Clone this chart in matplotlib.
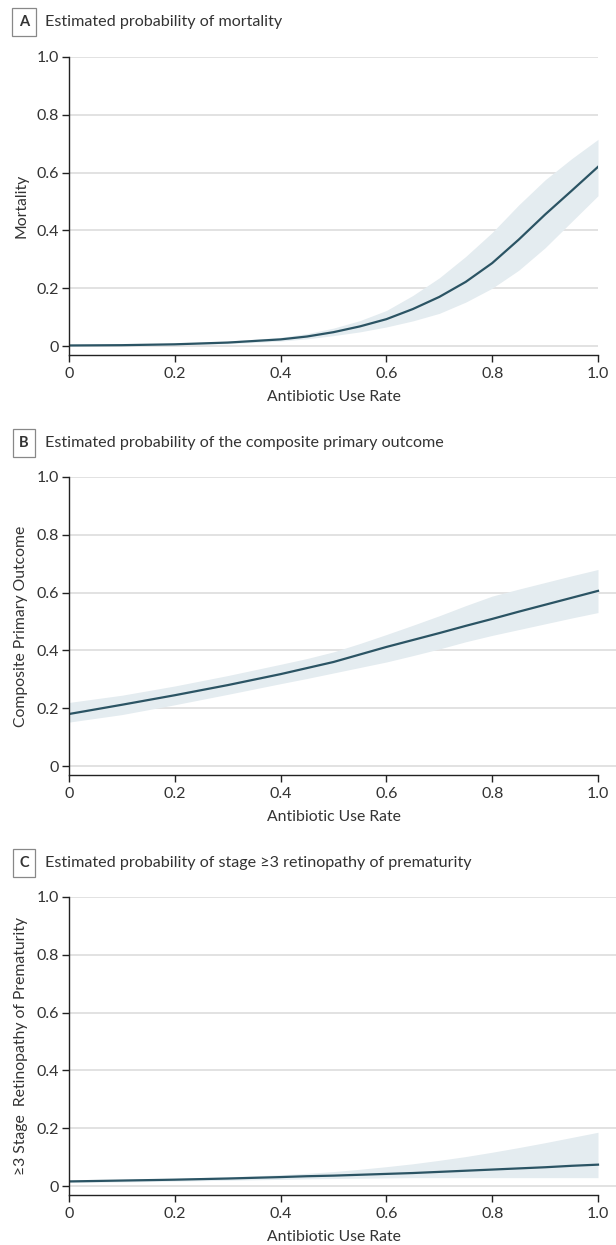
import matplotlib
matplotlib.use("Agg")
import matplotlib.pyplot as plt
import numpy as np

plt.rcParams['font.family'] = ['Lato', 'DejaVu Sans']

# ---------------- data ----------------
x_rate = [0.0, 0.1, 0.2, 0.3, 0.4, 0.45, 0.5, 0.55, 0.6, 0.65, 0.7, 0.75, 0.8, 0.85, 0.9, 0.95, 1.0]

mort_est = [0.002, 0.003, 0.006, 0.012, 0.023, 0.033, 0.048, 0.068, 0.093, 0.128, 0.170, 0.222, 0.287, 0.368, 0.455, 0.537, 0.620]
mort_hi  = [0.003, 0.005, 0.009, 0.017, 0.030, 0.043, 0.062, 0.088, 0.123, 0.175, 0.236, 0.310, 0.393, 0.488, 0.575, 0.648, 0.715]
mort_lo  = [0.001, 0.002, 0.004, 0.008, 0.017, 0.025, 0.036, 0.049, 0.066, 0.087, 0.113, 0.152, 0.200, 0.262, 0.340, 0.430, 0.520]

comp_est = [0.180, 0.212, 0.245, 0.280, 0.318, 0.339, 0.360, 0.386, 0.412, 0.436, 0.460, 0.485, 0.509, 0.534, 0.558, 0.582, 0.606]
comp_hi  = [0.220, 0.245, 0.277, 0.313, 0.352, 0.372, 0.395, 0.424, 0.455, 0.487, 0.520, 0.555, 0.588, 0.612, 0.635, 0.658, 0.680]
comp_lo  = [0.152, 0.178, 0.212, 0.248, 0.285, 0.303, 0.322, 0.341, 0.360, 0.382, 0.405, 0.430, 0.452, 0.472, 0.492, 0.512, 0.531]

rop_est = [0.016, 0.019, 0.022, 0.026, 0.031, 0.034, 0.036, 0.039, 0.042, 0.045, 0.049, 0.053, 0.057, 0.061, 0.065, 0.070, 0.074]
rop_hi  = [0.020, 0.023, 0.027, 0.032, 0.039, 0.044, 0.050, 0.058, 0.067, 0.077, 0.089, 0.102, 0.117, 0.133, 0.150, 0.168, 0.186]
rop_lo  = [0.012, 0.014, 0.017, 0.020, 0.023, 0.025, 0.026, 0.027, 0.028, 0.029, 0.029, 0.029, 0.029, 0.029, 0.029, 0.029, 0.029]

x_ticks = [0, 0.2, 0.4, 0.6, 0.8, 1.0]
x_tick_labels = ["0", "0.2", "0.4", "0.6", "0.8", "1.0"]
y_ticks = [0, 0.2, 0.4, 0.6, 0.8, 1.0]
y_tick_labels = ["0", "0.2", "0.4", "0.6", "0.8", "1.0"]

panels = [
    ("A", "Estimated probability of mortality", "Mortality", mort_est, mort_hi, mort_lo),
    ("B", "Estimated probability of the composite primary outcome", "Composite Primary Outcome", comp_est, comp_hi, comp_lo),
    ("C", "Estimated probability of stage \u22653 retinopathy of prematurity", "\u22653 Stage  Retinopathy of Prematurity", rop_est, rop_hi, rop_lo),
]
x_label = "Antibiotic Use Rate"

# ---------------- style ----------------
W, H = 616, 1245
fig = plt.figure(figsize=(W / 100, H / 100), dpi=100)
line_col = "#2b5464"
band_col = "#e4ecf0"
grid_col = "#e2e2e2"
text_col = "#333333"

layout = [(57, 22), (477, 443), (897, 863)]
left_px = 69
unit_w = 529
ax_h_px = 298
ymin = -0.031

for i, (letter, title, ylab, est, hi, lo) in enumerate(panels):
    top_px, title_px = layout[i]
    xmax = 1.0 if i == 0 else (616 - left_px) / unit_w
    width_px = unit_w * xmax
    ax = fig.add_axes([left_px / W, 1 - (top_px + ax_h_px) / H, width_px / W, ax_h_px / H])
    ax.set_xlim(0, xmax)
    ax.set_ylim(ymin, 1.0)
    for yt in y_ticks:
        ax.axhline(yt, color=grid_col, lw=1.4, zorder=0)
    ax.fill_between(x_rate, lo, hi, color=band_col, lw=0, zorder=1)
    ax.plot(x_rate, est, color=line_col, lw=1.6, zorder=2)

    for s in ["top", "right"]:
        ax.spines[s].set_visible(False)
    ax.spines["left"].set_bounds(ymin, 1.0)
    ax.spines["bottom"].set_bounds(0, 1.0)
    for s in ["left", "bottom"]:
        ax.spines[s].set_color("#222222")
        ax.spines[s].set_linewidth(1.0)
    ax.set_xticks(x_ticks)
    ax.set_xticklabels(x_tick_labels)
    ax.set_yticks(y_ticks)
    ax.set_yticklabels(y_tick_labels)
    ax.tick_params(axis="both", direction="out", length=5, width=1.0, color="#222222",
                   labelsize=11.5, labelcolor=text_col)
    ax.tick_params(axis="x", pad=4)
    ax.tick_params(axis="y", pad=2)
    ax.set_xlabel(x_label, fontsize=11.3, color=text_col)
    ax.xaxis.set_label_coords(0.5 / xmax, -0.141)
    ax.xaxis.label.set_va("center")
    ax.set_ylabel(ylab, fontsize=11.3, color=text_col)
    ax.yaxis.set_label_coords(-(left_px - 21) / width_px, 0.5)
    ax.yaxis.label.set_va("center")

    ty = 1 - title_px / H
    fig.text(24 / W, ty, letter, fontsize=10.5, fontweight="bold", color=text_col,
             ha="center", va="center",
             bbox=dict(boxstyle="square,pad=0.45", facecolor="white", edgecolor="#888888", lw=0.9))
    fig.text(45 / W, ty, title, fontsize=11.6, color=text_col, ha="left", va="center")

fig.savefig("out.png", dpi=100)
